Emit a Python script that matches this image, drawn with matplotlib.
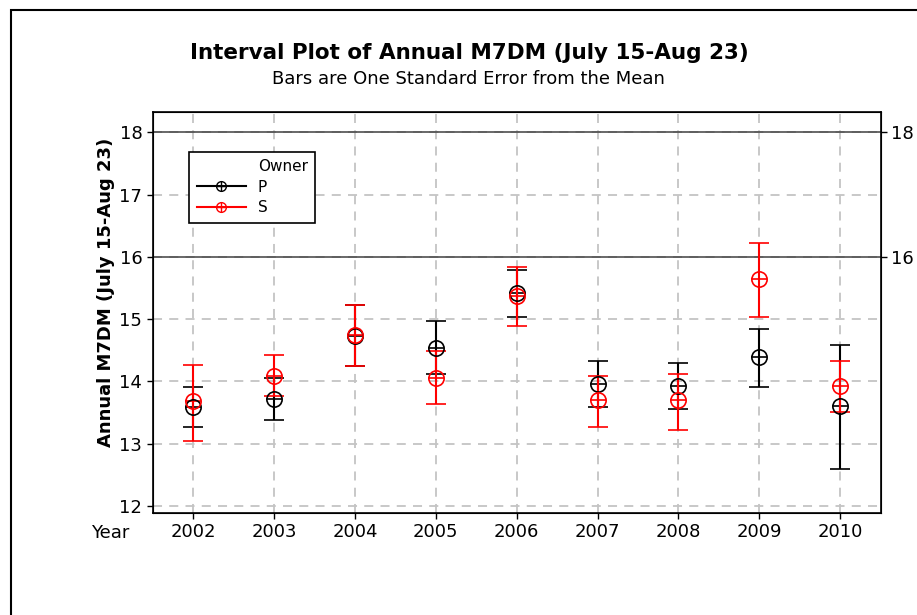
import matplotlib
matplotlib.use('Agg')
import matplotlib.pyplot as plt
from matplotlib.lines import Line2D
from matplotlib.patches import Rectangle
from matplotlib.legend_handler import HandlerTuple

plt.rcParams['font.family'] = ['DejaVu Sans']

# data (mean, lower and upper end of the SE bar)
years = [2002, 2003, 2004, 2005, 2006, 2007, 2008, 2009, 2010]

p_mean = [13.59, 13.72, 14.73, 14.54, 15.42, 13.95, 13.93, 14.39, 13.60]
p_low = [13.27, 13.38, 14.25, 14.11, 15.04, 13.58, 13.56, 13.91, 12.59]
p_high = [13.91, 14.06, 15.22, 14.97, 15.79, 14.33, 14.30, 14.84, 14.58]

s_mean = [13.68, 14.09, 14.75, 14.06, 15.37, 13.70, 13.70, 15.64, 13.93]
s_low = [13.04, 13.76, 14.25, 13.64, 14.89, 13.26, 13.22, 15.04, 13.51]
s_high = [14.27, 14.42, 15.22, 14.48, 15.84, 14.09, 14.12, 16.22, 14.33]

ref_lines = [16, 18]
y_ticks = [12, 13, 14, 15, 16, 17, 18]

fig = plt.figure(figsize=(9.17, 6.15), dpi=100)
ax = fig.add_axes([0.1665, 0.1663, 0.7939, 0.6521])

# outer frame of the graph window
fig.patches.append(Rectangle((11 / 917, -0.1), 1.2, 1 - 10 / 615 + 0.1,
                             transform=fig.transFigure, fill=False,
                             edgecolor='black', linewidth=1.5))

ax.grid(True, color='#c4c4c4', linestyle=(0, (5, 4)), linewidth=1.3)
ax.set_axisbelow(True)

for r in ref_lines:
    ax.axhline(r, color='#404040', linewidth=1.1, zorder=1.5)


def interval(mean, low, high, color):
    err = [[m - l for m, l in zip(mean, low)], [h - m for m, h in zip(mean, high)]]
    ax.errorbar(years, mean, yerr=err, fmt='o', ms=11, mfc='none', mec=color,
                mew=1.2, ecolor=color, elinewidth=1.5, capsize=7, capthick=1.5,
                zorder=3)
    ax.plot(years, mean, '+', ms=11, mew=1.2, color=color, zorder=3)


interval(p_mean, p_low, p_high, 'black')
interval(s_mean, s_low, s_high, 'red')

ax.set_xlim(2001.5, 2010.5)
ax.set_ylim(11.89, 18.33)
ax.set_xticks(years)
ax.set_yticks(y_ticks)
ax.tick_params(labelsize=13, length=4, width=1, direction='out')
for sp in ax.spines.values():
    sp.set_linewidth(1.2)

ax2 = ax.twinx()
ax2.set_ylim(ax.get_ylim())
ax2.set_yticks(ref_lines)
ax2.tick_params(labelsize=13, length=4, width=1)

ax.set_ylabel('Annual M7DM (July 15-Aug 23)', fontsize=13, fontweight='bold')
ax.yaxis.set_label_coords(-0.052, 0.55)
fig.text(110 / 917, 1 - 533 / 615, 'Year', fontsize=13, ha='center', va='center')

fig.text(469 / 917, 1 - 53 / 615, 'Interval Plot of Annual M7DM (July 15-Aug 23)',
         fontsize=15.5, fontweight='bold', ha='center', va='center')
fig.text(468 / 917, 1 - 79 / 615, 'Bars are One Standard Error from the Mean',
         fontsize=13, ha='center', va='center')

# legend: "Owner" as a header row without a symbol
blank = Line2D([], [], color='none')
hp = (Line2D([], [], color='black', marker='o', mfc='none', ms=7, mew=1),
      Line2D([], [], color='black', marker='+', ms=7, mew=1, linestyle='none'))
hs = (Line2D([], [], color='red', marker='o', mfc='none', ms=7, mew=1),
      Line2D([], [], color='red', marker='+', ms=7, mew=1, linestyle='none'))
leg = ax.legend([blank, hp, hs], ['Owner', 'P', 'S'],
                handler_map={tuple: HandlerTuple(ndivide=1, pad=0)},
                loc='upper left', bbox_to_anchor=(0.05, 0.90), fontsize=11,
                handlelength=3.2, handletextpad=0.8, labelspacing=0.35,
                borderpad=0.5, borderaxespad=0, fancybox=False, framealpha=1,
                edgecolor='black')
leg.get_frame().set_linewidth(1.2)

fig.savefig('out.png', dpi=100)
